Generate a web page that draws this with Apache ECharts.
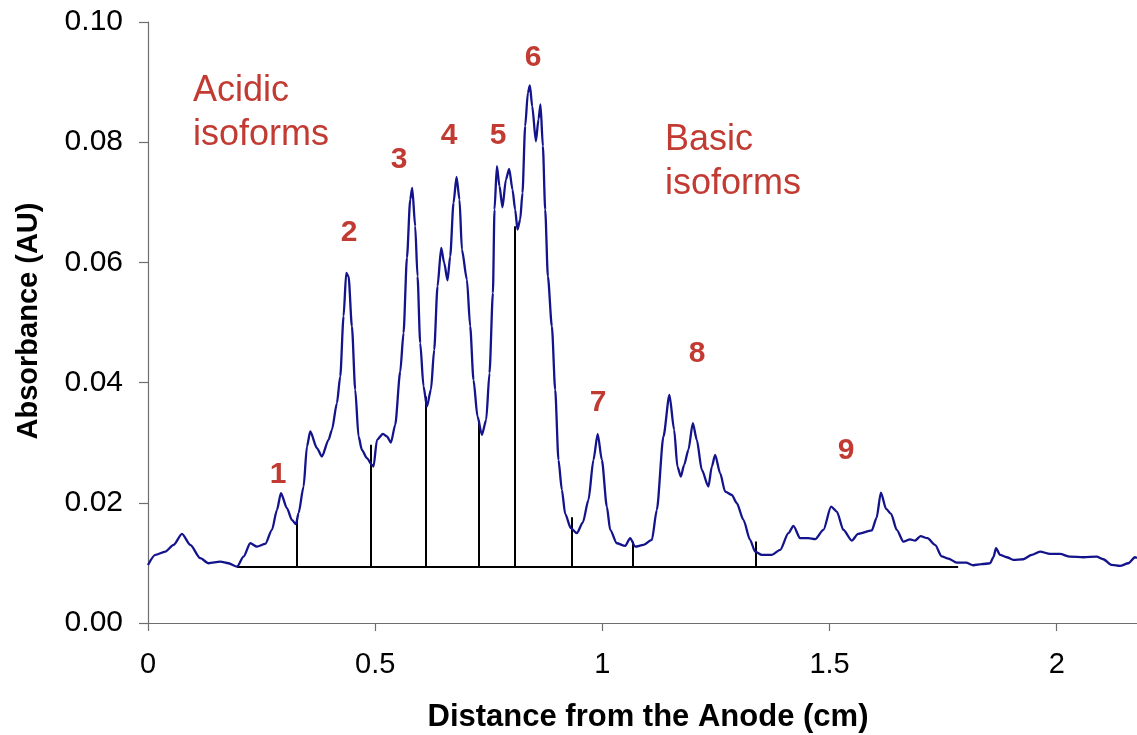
<!DOCTYPE html>
<html>
<head>
<meta charset="utf-8">
<script src="https://cdn.jsdelivr.net/npm/echarts@6/dist/echarts.min.js"></script>
<style>
  html, body { margin: 0; padding: 0; background: #ffffff; }
  #chart { width: 1137px; height: 735px; }
</style>
</head>
<body>
<div id="chart"></div>
<script>
// Densitometer scan of the IEF gel lane: distance (cm) vs absorbance (AU)
const distance = [
  0.000, 0.0161, 0.0381, 0.0563, 0.0748, 0.0931, 0.1151, 0.1333, 0.1591, 0.1773,
  0.1958, 0.2103, 0.2251, 0.2398, 0.2581, 0.2728, 0.2838, 0.2926, 0.3058, 0.3168,
  0.3256, 0.3314, 0.3424, 0.3498, 0.3571, 0.3718, 0.3828, 0.3974, 0.4048, 0.4158,
  0.4231, 0.4304, 0.4363, 0.4414, 0.4488, 0.4561, 0.4634, 0.4708, 0.4818, 0.4928,
  0.4964, 0.5039, 0.5171, 0.5259, 0.5347, 0.5441, 0.5551, 0.5624, 0.5699, 0.5771,
  0.5815, 0.5881, 0.5932, 0.5991, 0.6064, 0.6139, 0.6227, 0.6299, 0.6372, 0.6453,
  0.6519, 0.6592, 0.6651, 0.6724, 0.6790, 0.6856, 0.6909, 0.7019, 0.7091, 0.7164,
  0.7252, 0.7349, 0.7443, 0.7516, 0.7591, 0.7626, 0.7679, 0.7736, 0.7802, 0.7877,
  0.7949, 0.8022, 0.8081, 0.8132, 0.8191, 0.8242, 0.8301, 0.8361, 0.8405, 0.8456,
  0.8537, 0.8594, 0.8638, 0.8691, 0.8742, 0.8801, 0.8889, 0.8962, 0.9034, 0.9109,
  0.9182, 0.9307, 0.9439, 0.9571, 0.9694, 0.9804, 0.9897, 0.9989, 1.0099, 1.0172,
  1.0319, 1.0502, 1.0612, 1.0722, 1.0904, 1.1089, 1.1199, 1.1344, 1.1476, 1.1580,
  1.1652, 1.1727, 1.1800, 1.1894, 1.1991, 1.2079, 1.2189, 1.2334, 1.2409, 1.2482,
  1.2592, 1.2702, 1.2849, 1.2959, 1.3105, 1.3252, 1.3362, 1.3509, 1.3729, 1.3912,
  1.4095, 1.4205, 1.4352, 1.4535, 1.4682, 1.4865, 1.5034, 1.5160, 1.5305, 1.5490,
  1.5628, 1.5930, 1.6035, 1.6130, 1.6245, 1.6354, 1.6480, 1.6625, 1.6772, 1.6882,
  1.7003, 1.7157, 1.7322, 1.7470, 1.7615, 1.7800, 1.8004, 1.8165, 1.8350, 1.8532,
  1.8610, 1.8664, 1.8752, 1.8900, 1.9045, 1.9265, 1.9450, 1.9633, 1.9853, 2.0073,
  2.0293, 2.0586, 2.0880, 2.1025, 2.1210, 2.1393, 2.1576, 2.1723, 2.1767
];
const absorbance = [
  0.00966, 0.01133, 0.01188, 0.01299, 0.01482, 0.01299, 0.01078, 0.00994, 0.01021, 0.00994,
  0.00938, 0.01104, 0.01327, 0.01271, 0.01316, 0.01549, 0.01882, 0.02160, 0.01910, 0.01716,
  0.01644, 0.01827, 0.02270, 0.02936, 0.03186, 0.02910, 0.02770, 0.03048, 0.03215, 0.03659,
  0.04102, 0.05102, 0.05824, 0.05768, 0.04935, 0.03881, 0.03103, 0.02881, 0.02743, 0.02632,
  0.02603, 0.03048, 0.03148, 0.03103, 0.03003, 0.03298, 0.04181, 0.04825, 0.06079, 0.07045,
  0.07240, 0.06601, 0.05768, 0.04659, 0.03936, 0.03603, 0.03881, 0.04547, 0.05601, 0.06241,
  0.05991, 0.05701, 0.06101, 0.06990, 0.07423, 0.07045, 0.06213, 0.05713, 0.04935, 0.04047,
  0.03436, 0.03131, 0.03381, 0.04159, 0.05491, 0.06879, 0.07600, 0.07267, 0.06917, 0.07378,
  0.07557, 0.07212, 0.06879, 0.06546, 0.06712, 0.07157, 0.08266, 0.08822, 0.08944, 0.08599,
  0.08016, 0.08378, 0.08628, 0.07933, 0.06879, 0.05768, 0.04935, 0.03881, 0.02715, 0.02215,
  0.01815, 0.01577, 0.01494, 0.01674, 0.02049, 0.02715, 0.03148, 0.02715, 0.01937, 0.01549,
  0.01327, 0.01282, 0.01411, 0.01271, 0.01299, 0.01382, 0.01882, 0.03103, 0.03797, 0.03215,
  0.02603, 0.02437, 0.02632, 0.02881, 0.03326, 0.03048, 0.02548, 0.02270, 0.02603, 0.02798,
  0.02493, 0.02187, 0.02132, 0.01994, 0.01716, 0.01382, 0.01188, 0.01133, 0.01133, 0.01216,
  0.01494, 0.01616, 0.01411, 0.01411, 0.01394, 0.01549, 0.01937, 0.01854, 0.01549, 0.01371,
  0.01482, 0.01541, 0.01749, 0.02170, 0.01899, 0.01815, 0.01549, 0.01354, 0.01391, 0.01371,
  0.01444, 0.01411, 0.01299, 0.01108, 0.01071, 0.01004, 0.01004, 0.00961, 0.00978, 0.00994,
  0.01099, 0.01244, 0.01133, 0.01094, 0.01049, 0.01061, 0.01133, 0.01188, 0.01149, 0.01149,
  0.01104, 0.01094, 0.01104, 0.01061, 0.00966, 0.00949, 0.00994, 0.01094, 0.01083
];

// Integration baseline and the drop lines that split the isoform bands
const baselineLevel = 0.0093;
const baselineStart = 0.196;
const baselineEnd = 1.783;
const dropX = [0.3278, 0.4913, 0.6108, 0.7289, 0.8081, 0.9320, 1.0678, 1.3377];
const dropTop = [0.01744, 0.02965, 0.03769, 0.03364, 0.06600, 0.01760, 0.01354, 0.01354];

// Band numbers and region captions
const bandNames = ['1', '2', '3', '4', '5', '6', '7', '8', '9'];
const acidicCaption = ['Acidic', 'isoforms'];
const basicCaption = ['Basic', 'isoforms'];

const xTitle = 'Distance from the Anode (cm)';
const yTitle = 'Absorbance (AU)';

const chart = echarts.init(document.getElementById('chart'), null, { renderer: 'canvas' });

const FONT = 'Liberation Sans, Arial, sans-serif';
const RED = '#c23b33';

const trace = distance.map((x, i) => [x, absorbance[i]]);

const dropSegments = dropX.map((x, i) => [
  { coord: [x, baselineLevel] },
  { coord: [x, dropTop[i]] }
]);
dropSegments.push([
  { coord: [baselineStart, baselineLevel] },
  { coord: [baselineEnd, baselineLevel] }
]);

// Pixel anchors for the band numbers (centre of each digit)
const bandAnchors = [
  [278, 475], [349, 233], [399, 160], [449, 136], [498, 136],
  [533, 58], [598, 403], [697, 354], [846, 451]
];

const graphics = [];
bandNames.forEach((name, i) => {
  graphics.push({
    type: 'text',
    x: bandAnchors[i][0],
    y: bandAnchors[i][1],
    style: {
      text: name,
      fill: RED,
      font: 'bold 30px ' + FONT,
      textAlign: 'center',
      textVerticalAlign: 'middle'
    },
    z: 10
  });
});
[[acidicCaption, 193, [91, 135]], [basicCaption, 665, [140, 184]]].forEach(([lines, x, ys]) => {
  lines.forEach((t, j) => {
    graphics.push({
      type: 'text',
      x: x,
      y: ys[j],
      style: {
        text: t,
        fill: RED,
        font: '36px ' + FONT,
        textAlign: 'left',
        textVerticalAlign: 'middle'
      },
      z: 10
    });
  });
});
graphics.push({
  type: 'text',
  x: 648,
  y: 717,
  style: {
    text: xTitle,
    fill: '#000',
    font: 'bold 31px ' + FONT,
    textAlign: 'center',
    textVerticalAlign: 'middle'
  }
});
graphics.push({
  type: 'text',
  x: 29,
  y: 321,
  rotation: Math.PI / 2,
  style: {
    text: yTitle,
    fill: '#000',
    font: 'bold 29px ' + FONT,
    textAlign: 'center',
    textVerticalAlign: 'middle'
  }
});

const option = {
  animation: false,
  backgroundColor: '#ffffff',
  grid: { left: 148, right: 0, top: 22, bottom: 112, containLabel: false },
  xAxis: {
    type: 'value',
    min: 0,
    max: 2.1767,
    interval: 0.5,
    axisLine: { show: true, onZero: false, lineStyle: { color: '#6e6e6e', width: 1.2 } },
    axisTick: { show: true, inside: false, length: 8, lineStyle: { color: '#6e6e6e', width: 1.2 } },
    axisLabel: {
      show: true,
      color: '#000',
      fontSize: 29,
      fontFamily: FONT,
      margin: 27,
      showMaxLabel: false,
      formatter: v => String(v)
    },
    splitLine: { show: false }
  },
  yAxis: {
    type: 'value',
    min: 0,
    max: 0.1,
    interval: 0.02,
    axisLine: { show: true, onZero: false, lineStyle: { color: '#6e6e6e', width: 1.2 } },
    axisTick: { show: true, inside: false, length: 9, lineStyle: { color: '#6e6e6e', width: 1.2 } },
    axisLabel: {
      show: true,
      color: '#000',
      fontSize: 30,
      fontFamily: FONT,
      margin: 25,
      formatter: v => v.toFixed(2)
    },
    splitLine: { show: false }
  },
  series: [
    {
      type: 'line',
      data: trace,
      showSymbol: false,
      symbol: 'none',
      smooth: 0.25,
      smoothMonotone: 'x',
      lineStyle: { color: '#13138c', width: 2.3 },
      z: 3,
      markLine: {
        silent: true,
        symbol: ['none', 'none'],
        label: { show: false },
        lineStyle: { color: '#000000', width: 2, type: 'solid' },
        emphasis: { disabled: true },
        data: dropSegments,
        z: 2
      }
    }
  ],
  graphic: graphics
};

chart.setOption(option);
</script>
</body>
</html>
